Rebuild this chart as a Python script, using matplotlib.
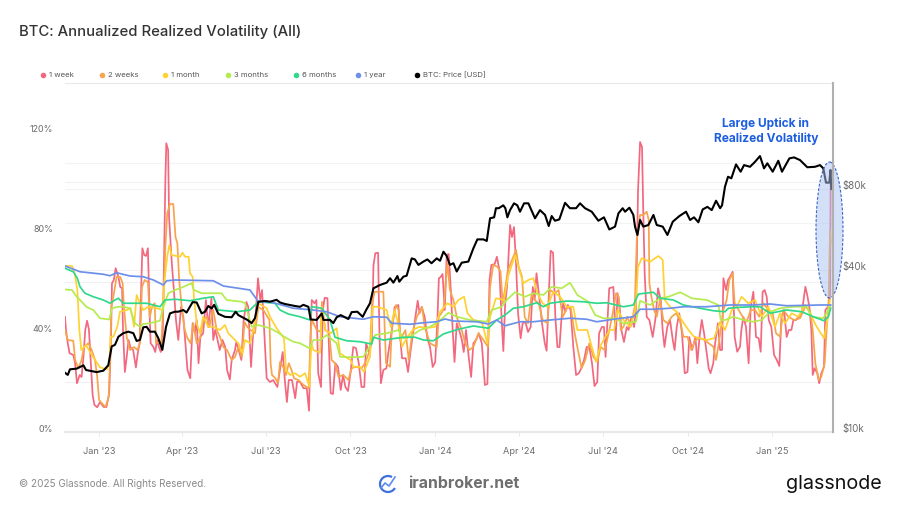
#!/usr/bin/env python3
# -*- coding: utf-8 -*-
import matplotlib
matplotlib.use("Agg")
import matplotlib.pyplot as plt
import matplotlib.patches as patches
import matplotlib.dates as mdates
import matplotlib.ticker as mticker
from matplotlib.transforms import ScaledTranslation
import numpy as np

plt.rcParams['font.family'] = ['Inter', 'DejaVu Sans']

W, H = 900, 507
START = mdates.datestr2num('2022-11-25')

# days since START, volatility in %
week_days = [0,1,3,5,9,11,13,16,18,20,22,24,26,28,30,32,35,38,42,45,48,50,51,53,55,58,60,62,63,65,67,69,71,74,77,79,81,84,86,88,90,92,93,96,98,100,102,104,106,107,109,110,112,113,
    116,118,120.5,123,126,128.5,131,133,136,138.6,141,143,145,147,150,153,155.6,159,161,163,165,168,171,174,176,179,181,184.6,186,188.6,191.5,194,197,199,202,204.5,206.7,209.6,212,214,217,219,222.6,226,230.6,
    236.4,239,241,243,246.5,250,252,255,259,262.5,265,267,268,271,273,275,278,280,282,285,287,288.5,291,293.6,296.5,299.4,302,304.5,307.3,310,313,316,319,322,325,327,330,333,335,337,340,341.4,343,345.7,349,351,
    355,358,362,364,366,370,372.5,375.4,378,383,385,387.4,390.6,393.5,396.4,399.3,402,404.4,406,408,410,412.4,414.5,416.7,419,421,423,425.4,428,431,433,435.5,438.4,441,443.5,446.4,449.3,452.6,456,458.7,461,463,466.7,469,471.7,
    474.2,476,478,480,483.3,485.4,487.6,489.8,492,494.8,497,500,502.8,505.7,508,510,512,515,518,521,523,525,527.4,530,532.5,534.7,537,539,541,543.4,546,549,552,555,558,560.7,563.6,566.5,569.4,572.3,575,578,580,583,585.3,587,589,591,
    595.5,598,600,602,604.2,607,610,612,615,618,620,622.3,624.5,626.6,628,629.5,631.7,634.6,638.2,641,644,647,649,651,654,657,660,662,664.3,667,670,673,676,678,681,684.6,686.7,689,691.5,694,696,699,701,704,706,709,
    711.4,713.5,715,717.8,720,722.2,725,727.2,730,733,734.5,736.6,739.5,742.4,744.6,747.5,750.4,753.3,755.5,757.6,759.8,762,764.2,767,770,773,775.7,778,780.8,783.7,786,788.8,791,793.8,796.7,800.3,804,806,808.3,810.5,812,814,817,819,821.4,824.2,825.7,828.6,830.8,831.5,832]
week_vol = [46,41,35.5,31.5,30.8,27.5,19.5,22.8,22,30,40.8,44.5,41,27.5,14.8,10.8,9.9,12,10,10,15.5,38,59.5,60.8,65.5,62,58,57.5,41,24,30,36.8,34,32.8,25.8,31.5,35.5,73.5,70.8,70.4,73.5,46,35.5,34,32,36.8,34,32,35.5,56.8,100.8,115.5,112.8,86,
    67.5,58,44.8,36.8,50,46,34,24.8,21.5,43.5,39.5,44.8,27.5,38,39.5,52.8,42,53.5,36.8,40.8,38,32.8,36.8,34,24.8,21,28.8,32.8,36,32.8,28.8,44.8,52,50,26,40.8,44.8,61.5,52.8,56.8,35.5,21.5,20,20.8,18,
    32,19.5,12,20.8,20.8,13.5,20.1,20.1,17.5,17.5,8.5,43.5,52.8,51.5,52.8,23.5,18,48.8,53.7,53.5,30,15.5,15.2,27.5,26,16.8,22.8,18,16.4,23.5,34,33.5,27.5,18,18,35.5,32,35.5,66.8,71.5,71.7,40.8,19.5,24.8,25.5,31.5,
    40.8,50,50.8,38,29.5,29.5,24,32.8,39.5,52.5,47.5,50,46,37.5,34,26,28,44.8,61.5,62,63.2,48.8,70.8,71.2,56.8,40.8,28,43.5,40.8,36.8,32,40.8,30,22,35.5,36.8,39.5,35.5,18.8,19.2,60.8,66.8,67.2,70.1,64.8,
    44.8,32.4,51.5,58,82.8,78,82,67.5,47.5,37.5,43.5,44,40,42,58,52.8,63.5,54,43.5,35.5,32.5,51.5,72.5,71.7,46,34,34,44.8,51.5,48.1,50.8,48.8,34,22.8,23.5,25.5,28.8,34,34,27.5,18.4,20,39.5,42,42,30,43.5,57.5,
    58,36.8,55.5,51.5,40.8,36,42,40.8,46,42,48.8,96.8,116,114,87.5,63.5,46,44.8,38,44.8,57.5,52.8,40.8,34,42,44.8,36.8,32.8,42,47.5,39.5,23.5,24,38,32.8,38,27.5,38,44.8,39.5,34,25.5,23.5,27.5,35.5,43.5,
    32.8,32.8,61.5,56.8,60.8,62.1,64.1,38,32.1,34.1,40.8,46,42.1,27.5,50,56.1,38,37.5,32.1,56.1,56.8,54.1,44.8,42.1,30.8,28.8,26.4,46,48.8,38,40.8,40.8,44.8,44.8,46,48.1,58.1,54.8,50.1,40.8,22.8,25.5,23.5,19.5,23.5,26.1,48.8,50.1,54.1,104.8,100]

two_week_days = [0,3,9,11,14.5,18,20.6,25.3,29,32.6,35,37,40,44,47.4,49,50.3,52.5,56,60,62.6,64,67,70.6,75,78.6,81.4,83.6,86.5,90,92,94.5,97.4,98.8,101.7,104.6,107,109,111,114,
    117.6,120,122,124,127,130,133,136.4,139.3,143,146.6,150,154,156.7,161,164.7,168.3,172,176,181,184.6,188.2,192,195,198,201.6,206.3,210,215.4,222,223.3,224.8,228.4,231.3,233.5,
    237,240,243,246,248.7,253.4,259,264.6,267,268.3,273.3,277.7,279,282.7,287,289.6,293.2,297,302.3,307.7,311.3,316,322,325.8,331.2,333.4,336.3,345.7,348.6,353,
    355,359.5,362.4,364,369.7,373.3,377,382,387.7,390.6,396.4,403.7,405.9,411,415.3,418,421.8,425.4,430.8,434.5,439,443.5,449,454.4,459.4,461.6,465,469.6,473,
    475.3,478.2,481,485.4,489.8,492.7,496.3,499.2,502.8,506.8,510,514.4,518.7,523.8,526.7,532,536,540.5,544.8,549,553.5,557,561,565,569.4,573.8,578,581.7,586,590.4,594.8,
    598.4,601.3,603.5,606.4,610.7,614.3,618.7,620.9,624.5,628,631.7,633.9,634.6,636.8,639.7,642.6,646.2,649.8,654.2,658.9,663.6,667.9,671.5,675.9,680.2,684.6,688.9,694.7,699,704.1,707,710,
    715,718.5,721.4,725,727.2,731.6,735.9,740.3,744.6,749.3,754,758.4,763.8,768.5,772.1,776.5,780.1,785.5,791.7,798.2,804,809,812,814.8,818.5,821.3,825,827.1,829.3,830.8,831.5]
two_week_vol = [40.8,36.8,36.5,28.8,25.5,28.8,34,35.5,32.8,28.8,22,12.8,11.5,10,14,30,50,54,62,62,59.5,50,38,32.8,34,32.8,35.5,58,60.8,60,46,50,51.5,35.5,36,35.5,52.8,74,87.5,91.2,
    91.2,78,75.5,60.8,48.8,40.8,37.5,35.5,43.5,35.5,37.5,44.8,46,42,48.8,40.8,38,34,32.8,28.8,30,34,30,44,42,40.8,39.5,50,48.8,44.8,27.5,22.8,21.5,19.5,28,
    26,22.8,27.5,24.8,21.5,20.8,18.8,17.5,40.8,44.8,40.8,40.1,52.1,40.8,39.5,28.8,27.5,22.1,22.8,20.8,25.5,26.1,25.5,27.5,32.8,51.5,56.1,56.1,27.5,26.1,
    42,50.8,48.8,36.8,40.8,28.8,39.5,46,50,42,35.5,34,46,48.8,67.5,56.8,52.8,46,40.8,35.5,32.8,34,39.5,36.8,34,58,66.8,66.1,64.1,
    51.5,58,64.8,68.8,72.8,66.1,62.1,46,43.5,55.5,52.8,51.5,44.8,43.5,56.8,55.5,56.8,46,49.5,50.1,39.5,32.8,25.5,28.8,35.5,30,28,34,32.8,39.5,47.5,
    55.5,54.1,40.8,42.1,46.1,42.1,50.1,76.8,86.8,86.8,88.1,84.8,59.5,54.1,48.8,46.1,52.8,44.8,43.5,46.1,47.5,44.8,38.1,38.1,32.8,36.8,37.5,36.8,35.5,34.1,28.8,35.5,
    48.8,52.8,60.8,63.5,51.5,48.8,46.1,44.1,48.8,48.8,46.1,51.5,48.8,47.5,39.5,38.1,48.8,46.1,44.8,45.5,50.1,48.8,40.8,27.5,20.8,22.1,27.5,40.8,52.8,80.8,75.5]

month_days = [0,7.6,10.5,13.4,15.6,17.7,22.8,27,32.6,38,45.3,48.1,49.6,52.5,56.8,59.7,67,71.3,75,77.8,81.4,85,90.5,99.5,106,108.2,111,113.3,115.8,
    124.9,127.8,130.3,134.3,135.7,138.6,140,143,146.6,150,155.6,161,168.3,173.7,177.3,182.8,188.2,192.9,195.5,200.9,204.5,210,219,222.6,229.8,
    237.8,240,244.4,249.8,255.2,260.7,265.4,267.5,269.7,277,278.8,282.4,288.5,295,298.7,304,310.2,313.1,320.4,324.7,331.2,334.1,338.5,349.3,353.7,
    358,361.7,366,371,377.6,384.9,392,401.9,407.3,415.3,421.8,427.2,433.4,437,443.5,452.6,458.7,461.6,468,
    476.7,481,488.7,492.3,497.7,503.2,508.6,513,518.7,523.8,530.3,537.6,544.8,552,556.4,562.9,567.2,572,576.7,581,586.8,591.9,
    596.2,599.9,606.4,613.6,619.4,622.3,626.3,635.3,644.4,649.1,651.3,657,664.3,669.7,677,683.1,689.6,696.9,704.8,711.4,
    716.7,724,729.4,734.8,742,749.3,756.6,763.8,771,776.5,781.9,789.1,796.4,803.6,809,816.3,824.2,827.9,830.8]
month_vol = [66.4,66.4,63.5,56.8,40.8,32.8,34.8,32.1,28.8,25.9,25,27.5,38.1,38.1,42.1,48.1,48.8,49.5,42.1,54.8,51.5,48.8,50.1,49.5,48.8,60.8,70.1,74.8,70.8,
    70.1,71.7,70.1,70.1,63.5,62.1,54.1,43.5,39.5,46.1,42.1,42.1,40.8,42.8,39.5,37.5,35.5,31.5,36.8,35.5,40.8,51.5,49.5,46.1,41.5,
    37.5,24.8,22.8,23.5,22.1,23.5,18.1,35.5,32.8,31.7,50.1,40.8,39.5,41.5,31.5,30.1,28.8,26.1,26.1,24.1,30.1,50.1,50.1,48.8,42.1,
    48.8,43.5,34.1,37.5,40.8,42.1,41.5,42.1,48.1,51.5,50.1,52.8,54.1,47.5,44.8,44.1,35.5,46.1,53.5,
    52.8,62.1,70.8,66.1,59.5,60.8,61.5,55.5,51.5,50.1,56.1,54.1,50.1,50.1,40.8,40.8,40.8,34.1,28.1,34.1,38.1,40.8,
    40.8,48.8,44.8,42.1,48.8,66.1,69.5,68.1,70.4,68.8,52.8,50.1,48.1,44.8,40.8,38.1,37.5,36.8,37.5,44.1,
    40.8,48.8,50.1,54.1,51.5,52.8,46.1,50.1,42.1,47.5,43.5,47.5,46.1,50.8,47.5,42.1,37.5,44.8,52.8]

three_month_days = [0,7.6,12.7,16.3,23.5,30.8,38,48.1,51,58,63.3,70.6,76,81.4,85,92.3,103,106.8,112.2,119.5,124.9,137.5,140,148.4,161,170,175.5,191.8,195.5,202.7,210,222.6,229.8,
    240.7,248,255.2,265.4,269.7,277,284.2,295,298.7,309.5,324,333,336.7,349.3,362,367.5,374.7,385.6,396.4,405.5,416.4,425.4,439.9,458,463.4,474.3,
    479.6,488.7,499.6,508.6,519.5,528.5,539.4,548.4,556.4,568.3,575.6,584.6,597.3,606.4,620.1,624.5,635.3,646.2,655.3,667.9,680.6,696.9,709.6,712.1,
    716.7,725.8,736.6,747.5,756.6,765.6,776.5,790.9,805.4,810.9,823.5,830.8]
three_month_vol = [57,56.8,54.1,52.8,50,48.8,45.5,45,49.5,50.1,50.1,49.5,43.5,42.1,43.2,43.5,44.5,50.1,55.5,56.8,57.5,59.5,56.8,55.5,55.5,55.5,52.8,52.1,51.5,42.1,42.8,41.5,40.1,
    37.5,36.1,35.5,33.5,36.8,36.8,38.8,35.5,30.1,29.9,30.1,35.5,38.8,39.5,40.8,37.5,38.1,40.8,42.1,44.1,47.7,46.1,44.8,44.1,48.8,50.1,
    52.8,55.9,54.1,55.5,54.8,58.1,57.5,59.7,54.8,52.1,46.8,45.5,45.5,43.5,44.1,52.5,50.8,53.5,54.1,55.9,53.5,52.8,50.8,44.8,
    44.8,46.1,44.8,44.1,44.8,48.1,49.5,50.1,50.1,46.1,45.5,50.1]

six_month_days = [0,9,13.4,16.3,21.7,30.8,41.6,48.9,54.3,58,63.3,74.2,88.7,103.2,108.6,119.5,135.7,150,161,166.5,186.4,200.9,210,228,233.5,
    242.5,255.2,266.1,267.9,278.8,287.8,293.2,305.9,320.4,333,334.9,345.7,367.5,380.2,389.2,400.1,410.9,427.2,443.5,459.8,468.8,477.8,
    486.9,497.7,512.2,519.5,526.7,544.8,562.9,577.4,588.2,606.4,617.2,622.7,639,646.2,660.7,671.5,689.6,704.1,716.8,
    720.4,733,747.5,754.7,765.6,783.7,800,812.7,824.2,829,831.5]
six_month_vol = [65.5,64.1,61.5,58.1,55.5,54.1,52.8,51.5,52.8,53.5,51.5,51.5,51.5,50.1,52.8,53.1,52.5,53.5,54.1,48.8,48.1,48.8,52.1,51.5,48.8,
    47.2,46.1,44.8,50.1,49.5,44.8,37.9,36.5,36.1,35.2,37.9,36.8,37.9,37.9,36.8,36.5,39.2,41.1,42.4,41.5,44.8,46.8,
    49.5,50.1,51.7,50.1,51.5,52.4,52.1,51.5,51.7,50.1,50.8,55.2,55.9,53.5,52.8,50.8,49.5,48.5,48.1,
    49.5,49.9,50.1,50.1,47.5,48.8,48.1,46.1,44.5,46.1,49.5]

year_days = [0,16.3,41.6,48.9,56.1,70.6,85,96,106.8,110.4,119.5,161,172,200.9,210,222.6,248,269.7,284.2,298.7,324,334.9,349.3,354.8,
    374.7,389.2,403.7,412.7,421.8,447.1,459.8,468.8,477.8,494.1,508.6,526.7,548.4,566.5,577.4,597.3,617.2,624.5,639,657,671.5,696.9,
    722.2,747.5,765.6,783.7,820,831.5]
year_vol = [66.4,64.1,63.1,62.5,63.7,62.4,62.1,60.8,58.8,60.5,60.8,60.5,58.4,56.8,52.1,52.1,49.5,48.8,48.1,46.1,45.1,46.1,45.9,43.5,
    43.1,43.7,44.1,45.2,44.4,44.1,43.2,44.8,42.5,44.1,44.1,44.8,45.5,45.1,44.1,45.2,46.1,49.1,49.1,49.5,50.1,50.1,
    50.8,50.8,51.2,50.5,50.8,50.8]

# BTC price in USD, thousands
price_days = [0,3,5.4,12.7,20,22.8,34.4,41.6,47,50.7,54.3,58,63.3,68.8,74.2,77.8,81.4,85,88.7,92.3,97.7,101.4,105.7,109.7,114,
    119.4,123,128.5,132,135.7,138.6,143,148.4,152,155.6,159.3,162,166.5,173.7,181,185.3,188.2,194.4,198,202.7,206.3,210,217.2,222.6,229.8,233.5,
    239,249.8,255.2,258.8,264.3,266.8,273.3,278.8,280.6,287.8,291.4,295,299.4,307.7,311.3,317.5,323.3,327,331.2,334.9,342.1,349.3,353,
    356.6,361,363,367.5,371,376.5,380,383.8,389.2,393.5,398,403.7,407.3,411,414.5,418,421.8,425.4,430.8,438,443.5,447.8,454.4,458,461.6,466,468,471,
    476,478.2,480.4,483.3,487.6,491.2,494.1,498.5,503.2,510.4,515.8,521.3,525.3,528.5,532.1,536.8,543,548.4,555,559.3,564.7,572,579.2,585.3,591.1,
    597.3,601,605.6,608.2,612.9,617.2,619,621.6,624.5,628,633.5,639,642.6,649.1,654.2,660,667.2,674.4,678.8,683.1,687.8,692.5,697.6,702.3,707,711.4,
    713.5,716.7,720,723.6,728.7,733.7,737.4,743.9,749.3,754.7,759.1,762.7,768.5,774.6,778.6,786.6,791.7,798.2,806.1,814.5,819.9,823.5,826.4,830,831.2,832.2]
price_usd = [16.6,16.3,17.1,17.2,17.7,17.0,16.7,16.9,17.7,20.8,21.1,22.6,23.3,23.6,23.3,21.8,22.0,24.5,24.6,23.6,23.6,22.3,20.2,24.6,27.6,
    28.0,28.0,28.4,27.8,29.2,30.4,30.3,27.6,28.0,29.4,28.8,29.7,27.5,26.8,26.7,28.0,27.2,26.5,26.1,25.4,26.5,30.5,30.7,30.5,31.0,30.3,
    29.9,29.4,29.2,29.7,29.2,26.2,26.1,27.6,26.1,26.1,25.4,26.7,27.2,26.3,27.9,28.0,26.8,28.4,30.1,34.2,35.2,35.9,37.3,
    35.9,38.0,36.2,37.8,38.1,44.2,43.8,41.8,43.0,43.8,42.4,44.2,43.3,46.8,45.1,41.8,42.4,39.5,42.6,43.0,48.2,52.0,52.0,51.3,62.3,62.8,67.9,67.9,
    69.6,67.9,62.8,66.8,70.8,69.6,65.9,70.8,70.8,62.3,66.8,64.1,58.3,63.5,61.0,61.7,71.1,67.9,67.9,70.8,67.9,65.9,61.0,62.8,56.6,
    58.0,65.0,67.9,65.9,68.2,64.1,58.0,54.0,61.4,58.0,58.8,64.1,58.8,58.0,54.0,60.5,63.5,65.9,61.4,62.8,60.2,67.2,68.7,66.8,72.4,67.9,
    69.6,81.6,88.9,87.7,98.8,92.8,98.2,96.8,101.0,106.1,95.5,99.7,92.8,101.9,92.8,104.0,104.9,102.5,96.4,96.8,98.2,95.5,84.5,84.5,94.2,80.0]

series = [
    ('1 week', week_days, week_vol, '#f2687f'),
    ('2 weeks', two_week_days, two_week_vol, '#f7a44e'),
    ('1 month', month_days, month_vol, '#ffd233'),
    ('3 months', three_month_days, three_month_vol, '#b4ec50'),
    ('6 months', six_month_days, six_month_vol, '#30d88c'),
    ('1 year', year_days, year_vol, '#6c90ea'),
]

vol_ticks = [0, 40, 80, 120]
vol_grid = [20, 40, 60, 80, 100, 120]
price_ticks = [10, 40, 80]
price_grid = [40, 60, 80, 100]

fig = plt.figure(figsize=(W / 100, H / 100), dpi=100, facecolor='white')
rect = [65 / W, 1 - 432 / H, (833 - 65) / W, (432 - 82) / H]
text_grey = '#6b6b6b'

# grid of the price scale sits behind everything
ax_back = fig.add_axes(rect, zorder=1)
ax_back.set_yscale('log')
ax_back.set_ylim(10, 200)
ax_back.set_xticks([])
ax_back.yaxis.set_major_locator(mticker.FixedLocator(price_grid))
ax_back.yaxis.set_minor_locator(mticker.NullLocator())
ax_back.yaxis.set_major_formatter(mticker.NullFormatter())
ax_back.tick_params(length=0)
ax_back.grid(axis='y', color='#f3f3f3', lw=0.8)
for s in ax_back.spines.values():
    s.set_visible(False)

ax = fig.add_axes(rect, zorder=2)
ax.patch.set_visible(False)
for name, days, vol, color in series:
    ax.plot(START + np.array(days), vol, color=color, lw=1.25, solid_joinstyle='round', label=name)
ax.set_xlim(START, START + 834)
ax.set_ylim(0, 140)
ax.set_yticks(vol_ticks)
ax.set_yticklabels([f'{v}%' for v in vol_ticks])
ax.yaxis.set_minor_locator(mticker.FixedLocator(vol_grid))
ax.grid(axis='y', which='minor', color='#f0f0f0', lw=0.8)
ax.xaxis.set_major_locator(mdates.MonthLocator(bymonth=(1, 4, 7, 10)))
ax.xaxis.set_major_formatter(mdates.DateFormatter("%b '%y"))
ax.tick_params(axis='x', length=3, width=0.6, color='#e4e4e4', labelsize=6.6, labelcolor=text_grey, pad=8)
ax.tick_params(axis='y', which='both', length=0, labelsize=6.4, labelcolor=text_grey, pad=8.6)
for s in ('top', 'left', 'right'):
    ax.spines[s].set_visible(False)
ax.spines['bottom'].set_color('#e8e8e8')
ax.spines['bottom'].set_linewidth(1.6)

ax2 = fig.add_axes(rect, zorder=3, sharex=ax)
ax2.patch.set_visible(False)
ax2.plot(START + np.array(price_days), price_usd, color='black', lw=1.5, solid_joinstyle='round')
ax2.set_yscale('log')
ax2.set_ylim(10, 200)
ax2.yaxis.tick_right()
ax2.yaxis.set_major_locator(mticker.FixedLocator(price_ticks))
ax2.yaxis.set_minor_locator(mticker.NullLocator())
ax2.yaxis.set_major_formatter(mticker.FuncFormatter(lambda v, _: f'${v:.0f}k'))
ax2.tick_params(axis='y', length=0, labelsize=7, labelcolor=text_grey, pad=7)
ax2.tick_params(axis='x', length=0, labelbottom=False)
for s in ax2.spines.values():
    s.set_visible(False)

# tick labels in the reference sit a bit above their gridlines
nudge = ScaledTranslation(0, 4 / 100, fig.dpi_scale_trans)
for lab in ax.get_yticklabels() + ax2.get_yticklabels():
    lab.set_transform(lab.get_transform() + nudge)

# everything else is placed in picture pixels
over = fig.add_axes([0, 0, 1, 1], zorder=4)
over.set_xlim(0, W)
over.set_ylim(H, 0)
over.axis('off')
over.patch.set_visible(False)

over.plot([65, 833], [82.5, 82.5], color='#e9e9e9', lw=0.8)
over.plot([832.7, 832.7], [82.5, 432], color='#b0b0b0', lw=1.5)
over.add_patch(patches.Ellipse((829.5, 230), 27, 136, facecolor='#a9c2f0', alpha=0.5, edgecolor='none'))
over.add_patch(patches.Ellipse((829.5, 230), 27, 136, fill=False, edgecolor='#3a67c6', lw=0.8, ls=(0, (2.5, 1.5))))
over.text(766, 131.5, 'Large Uptick in\nRealized Volatility', color='#1d5ee0', fontsize=8.6, fontweight='bold',
          ha='center', va='center', linespacing=1.25)

over.text(19, 32, 'BTC: Annualized Realized Volatility (All)', fontsize=10.7, color='#333333', fontweight='medium', va='center')

legend_x = [43, 102, 165, 228, 296, 358, 417]
legend_names = [s[0] for s in series] + ['BTC: Price [USD]']
legend_colors = [s[3] for s in series] + ['black']
for x, name, color in zip(legend_x, legend_names, legend_colors):
    over.plot([x], [75], 'o', ms=4, color=color, mew=0)
    over.text(x + 6, 75, name, fontsize=5.6, color='#555555', va='center')

over.text(19, 484, '© 2025 Glassnode. All Rights Reserved.', fontsize=7.15, color='#8a8a8a', va='center')
over.add_patch(patches.Arc((388, 484), 16, 16, theta1=30, theta2=300, edgecolor='#3f6fe0', lw=1.6))
over.plot([381, 385, 389, 395], [488, 483, 486, 477], color='#5b8df0', lw=1.2)
over.text(408, 484, 'iranbroker.net', fontsize=11.4, color='#6f6f6f', fontweight='bold', va='center')
over.text(882, 484, 'glassnode', fontsize=14.2, color='#111111', ha='right', va='center')

fig.savefig('out.png', dpi=100, facecolor='white')
